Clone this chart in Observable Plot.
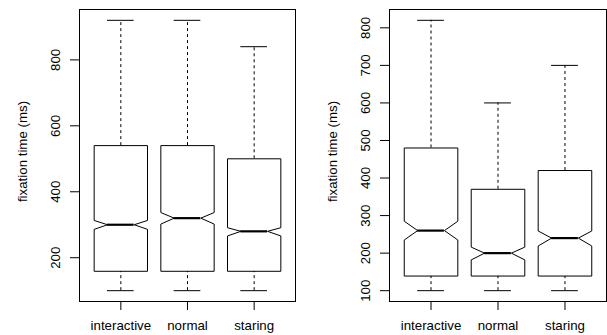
<!DOCTYPE html>
<html>
<head>
<meta charset="utf-8">
<script src="https://cdn.jsdelivr.net/npm/d3@7"></script>
<script src="https://cdn.jsdelivr.net/npm/@observablehq/plot@0.6"></script>
<style>
  html, body { margin: 0; padding: 0; background: #fff; }
  #wrap { display: flex; width: 607px; height: 335px; }
</style>
</head>
<body>
<div id="wrap"></div>
<script>
const categories = ["interactive", "normal", "staring"];

// Left panel
const leftLow = [100, 100, 100];
const leftQ1 = [160, 160, 160];
const leftMedian = [300, 320, 280];
const leftQ3 = [540, 540, 500];
const leftHigh = [920, 920, 840];
const leftNotchLow = [286, 302, 266];
const leftNotchHigh = [313, 337, 291];
const leftTicks = [200, 400, 600, 800];

// Right panel
const rightLow = [100, 100, 100];
const rightQ1 = [140, 140, 140];
const rightMedian = [260, 200, 240];
const rightQ3 = [480, 370, 420];
const rightHigh = [820, 600, 700];
const rightNotchLow = [235, 182, 219];
const rightNotchHigh = [285, 216, 259];
const rightTicks = [100, 200, 300, 400, 500, 600, 700, 800];

const yLabel = "fixation time (ms)";

function makeTable(low, q1, med, q3, high, nlo, nhi) {
  return categories.map((c, k) => ({
    cat: c, i: k + 1, low: low[k], q1: q1[k], median: med[k], q3: q3[k],
    high: high[k], nlo: nlo[k], nhi: nhi[k]
  }));
}

function panel(rows, yTicks, opts) {
  const w = 0.4; // half box width (in category units)
  const poly = [];
  for (const r of rows) {
    const pts = [
      [-w, r.q1], [-w, r.nlo], [-w / 2, r.median], [-w, r.nhi], [-w, r.q3],
      [w, r.q3], [w, r.nhi], [w / 2, r.median], [w, r.nlo], [w, r.q1]
    ];
    for (const [dx, y] of pts) poly.push({ cat: r.cat, x: r.i + dx, y });
  }
  const lo = d3.min(rows, d => d.low), hi = d3.max(rows, d => d.high);
  const ext = (hi - lo) * 0.04;
  const n = categories.length;
  const xext = n * 0.04;
  return Plot.plot({
    width: opts.width,
    height: 335,
    marginLeft: opts.marginLeft,
    marginRight: opts.marginRight,
    marginTop: 9,
    marginBottom: 34,
    style: { fontFamily: "'Liberation Sans', Arial, Helvetica, sans-serif", fontSize: "13.3px", background: "white", color: "black" },
    x: { domain: [0.5 - xext, n + 0.5 + xext] },
    y: { domain: [lo - ext, hi + ext] },
    marks: [
      Plot.frame({ stroke: "black", strokeWidth: 1 }),
      Plot.ruleX(rows, { x: "i", y1: "q3", y2: "high", stroke: "black", strokeDasharray: "3,3" }),
      Plot.ruleX(rows, { x: "i", y1: "low", y2: "q1", stroke: "black", strokeDasharray: "3,3" }),
      Plot.ruleY(rows, { y: "high", x1: d => d.i - w / 2, x2: d => d.i + w / 2, stroke: "black" }),
      Plot.ruleY(rows, { y: "low", x1: d => d.i - w / 2, x2: d => d.i + w / 2, stroke: "black" }),
      Plot.line(poly, { x: "x", y: "y", z: "cat", curve: "linear-closed", stroke: "black", strokeWidth: 1, fill: "white" }),
      Plot.ruleY(rows, { y: "median", x1: d => d.i - w / 2, x2: d => d.i + w / 2, stroke: "black", strokeWidth: 2.2 }),
      Plot.axisX({ ticks: categories.map((c, k) => k + 1), tickFormat: v => categories[v - 1], tickSize: 9, tickPadding: 10, label: null, stroke: "black" }),
      Plot.axisY({ ticks: yTicks, tickFormat: d => String(d), tickSize: 9, tickPadding: 15, tickRotate: -90, lineAnchor: "middle", textAnchor: "middle", label: null, stroke: "black" }),
      Plot.text([yLabel], { text: d => d, frameAnchor: "left", rotate: -90, dx: -57, dy: -4, lineAnchor: "middle", textAnchor: "middle", fill: "black" })
    ]
  });
}

const left = panel(
  makeTable(leftLow, leftQ1, leftMedian, leftQ3, leftHigh, leftNotchLow, leftNotchHigh),
  leftTicks, { width: 303, marginLeft: 79, marginRight: 8 });
const right = panel(
  makeTable(rightLow, rightQ1, rightMedian, rightQ3, rightHigh, rightNotchLow, rightNotchHigh),
  rightTicks, { width: 304, marginLeft: 86, marginRight: 1 });

document.getElementById("wrap").append(left, right);
</script>
</body>
</html>
